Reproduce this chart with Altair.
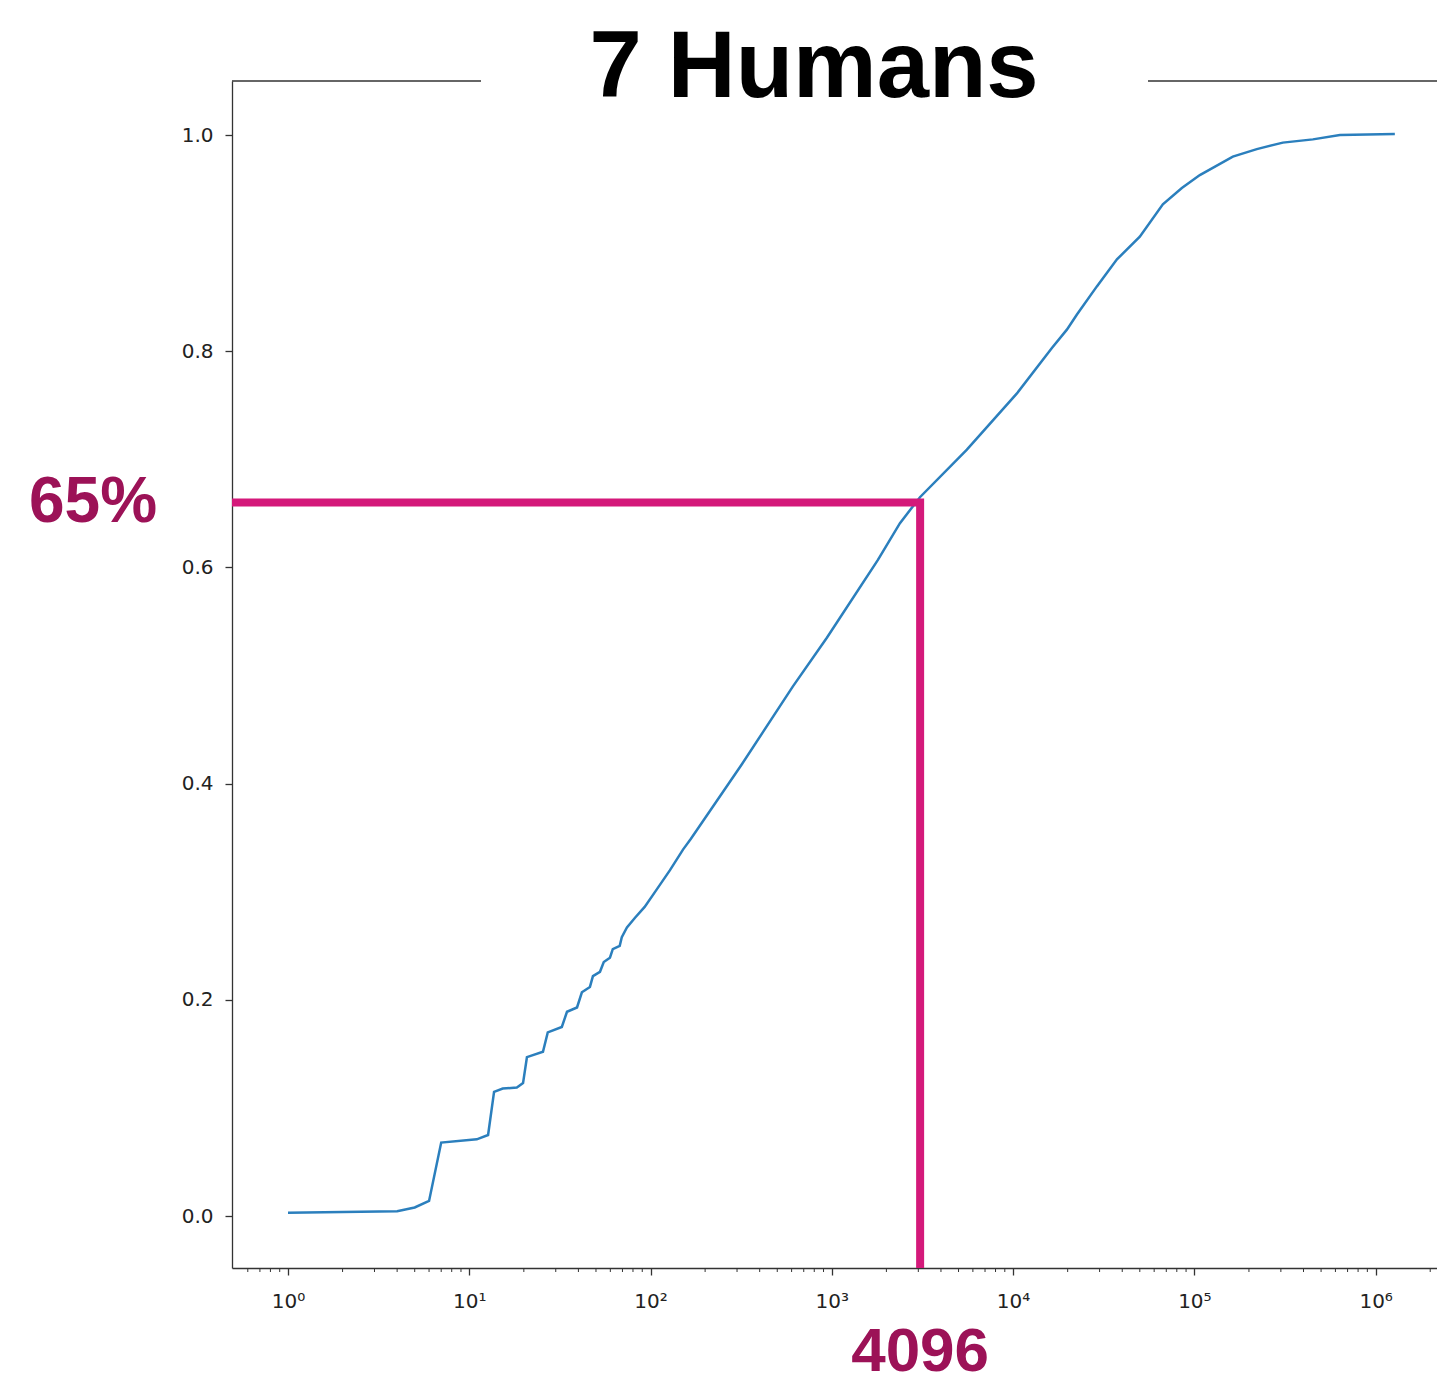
import altair as alt
import pandas as pd

# ---- data ----
cdf_x = [1, 4, 5, 6, 7, 11, 12.7, 13.7, 15.3, 18.3, 19.8, 20.8, 21.6, 25.5, 27.1,
         32.4, 34.6, 39.3, 41.8, 46.3, 48.1, 52.6, 55.2, 59.7, 61.9, 67.6, 69.4,
         74.1, 82.1, 92.8, 108, 128, 151, 167, 319, 610, 939, 1796, 2376, 3063,
         5560, 10500, 16370, 19800, 22500, 28980, 37400, 50000, 67000, 85300,
         107200, 163000, 221000, 307700, 450500, 635000, 1276000]
cdf_y = [0.003, 0.0046, 0.008, 0.014, 0.068, 0.071, 0.075, 0.115, 0.118, 0.119,
         0.123, 0.147, 0.148, 0.152, 0.170, 0.175, 0.189, 0.193, 0.207, 0.212,
         0.222, 0.226, 0.235, 0.239, 0.247, 0.250, 0.258, 0.267, 0.276, 0.286,
         0.302, 0.320, 0.339, 0.349, 0.418, 0.490, 0.535, 0.607, 0.641, 0.665,
         0.709, 0.761, 0.803, 0.820, 0.834, 0.860, 0.885, 0.906, 0.936, 0.951,
         0.963, 0.980, 0.987, 0.993, 0.996, 1.000, 1.001]

x_domain = [0.491, 2.18e6]
y_domain = [-0.048, 1.05]
major_x = [1, 10, 100, 1000, 10000, 100000, 1000000]
minor_x = [0.6, 0.7, 0.8, 0.9] + [k * 10 ** e for e in range(0, 7) for k in range(2, 10) if k * 10 ** e <= 2e6]
y_ticks = [0.0, 0.2, 0.4, 0.6, 0.8, 1.0]

mark_x = 3070      # vertical annotation position
mark_y = 0.66      # horizontal annotation position
title_text = "7 Humans"
pct_label = "65%"
x_label = "4096"

W, H = 1205, 1187
AX = "#333333"
MAG = "#D4197A"
DARKMAG = "#9C1257"

xs = alt.Scale(type="log", domain=x_domain, nice=False, zero=False)
ys = alt.Scale(domain=y_domain, nice=False, zero=False)

df = pd.DataFrame({"x": cdf_x, "y": cdf_y})

line = alt.Chart(df).mark_line(color="#2b7fbd", strokeWidth=2.5, clip=True).encode(
    x=alt.X("x:Q", scale=xs, axis=alt.Axis(
        values=major_x, tickSize=7, labelPadding=16,
        labelExpr="'10' + ['\u2070','\u00b9','\u00b2','\u00b3','\u2074','\u2075','\u2076'][round(log(datum.value)/LN10)]",
        title=None, grid=False)),
    y=alt.Y("y:Q", scale=ys, axis=alt.Axis(
        values=y_ticks, format=".1f", tickSize=7, labelPadding=12, title=None, grid=False)),
)

minor = alt.Chart(pd.DataFrame({"m": minor_x})).mark_rule(color=AX, strokeWidth=1).encode(
    x=alt.X("m:Q", scale=xs),
    y=alt.value(H), y2=alt.value(H + 4),
)

annot_df = pd.DataFrame({
    "x": [x_domain[0], mark_x, mark_x],
    "y": [mark_y, mark_y, y_domain[0]],
    "o": [0, 1, 2],
})
annot = alt.Chart(annot_df).mark_line(color=MAG, strokeWidth=8, strokeJoin="miter", strokeCap="butt").encode(
    x=alt.X("x:Q", scale=xs), y=alt.Y("y:Q", scale=ys), order="o:Q",
)

top_left = alt.Chart().mark_rule(color=AX, strokeWidth=1.3).encode(
    x=alt.value(0), x2=alt.value(249), y=alt.value(0))
top_right = alt.Chart().mark_rule(color=AX, strokeWidth=1.3).encode(
    x=alt.value(916), x2=alt.value(W), y=alt.value(0))

title = alt.Chart(pd.DataFrame({"t": [title_text]})).mark_text(
    font="Liberation Sans", fontWeight="bold", fontSize=94, color="black",
    align="center", baseline="alphabetic").encode(
    text="t:N", x=alt.value(582), y=alt.value(16))

pct = alt.Chart(pd.DataFrame({"t": [pct_label], "y": [mark_y]})).mark_text(
    font="Liberation Sans", fontWeight="bold", fontSize=64, color=DARKMAG,
    align="center", baseline="middle").encode(
    text="t:N", x=alt.value(-139), y=alt.Y("y:Q", scale=ys))

xl = alt.Chart(pd.DataFrame({"t": [x_label], "x": [mark_x]})).mark_text(
    font="Liberation Sans", fontWeight="bold", fontSize=62, color=DARKMAG,
    align="center", baseline="alphabetic").encode(
    text="t:N", x=alt.X("x:Q", scale=xs), y=alt.value(1290))

chart = alt.layer(line, minor, annot, top_left, top_right, title, pct, xl).properties(
    width=W, height=H,
    padding={"left": 224, "top": 73, "right": 0, "bottom": 117},
    autosize=alt.AutoSizeParams(type="none"),
    background="white",
).configure_view(stroke=None).configure_axis(
    domainColor=AX, domainWidth=1.3, tickColor=AX, tickWidth=1.3,
    labelFont="DejaVu Sans", labelFontSize=20, labelColor="#222222",
)

chart.save("out.html", embed_options={"renderer": "svg", "actions": False})
